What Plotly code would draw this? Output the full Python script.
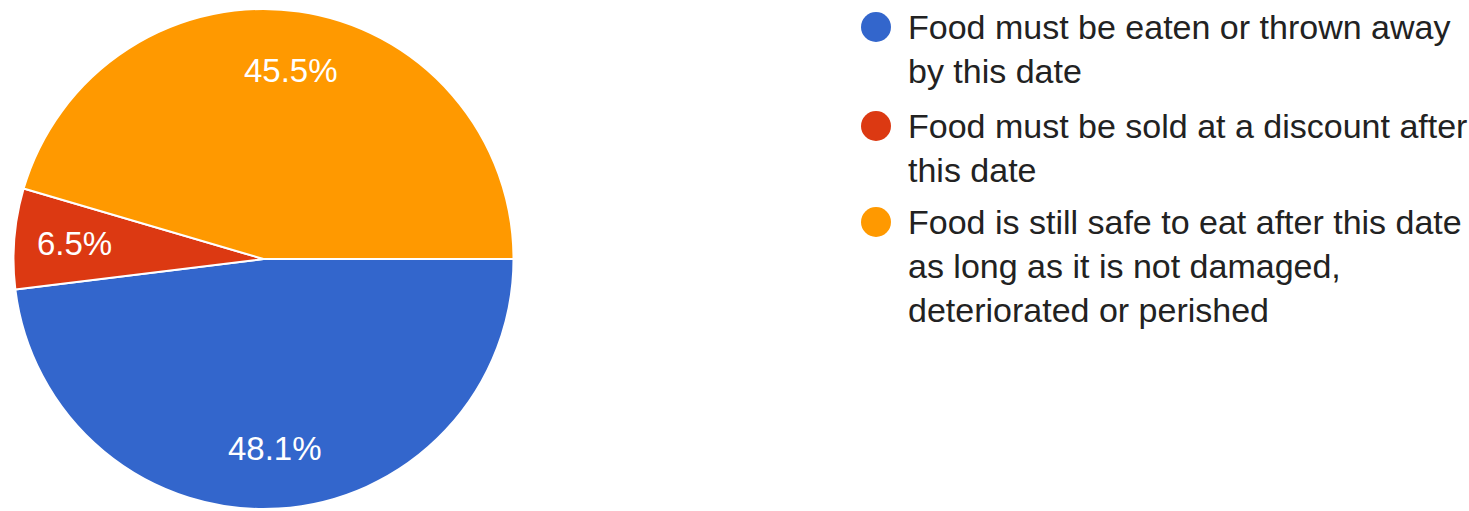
import math
import plotly.graph_objects as go

# Survey answers and their shares (percent)
labels = [
    "Food must be eaten or thrown away<br>by this date",
    "Food must be sold at a discount after<br>this date",
    "Food is still safe to eat after this date<br>as long as it is not damaged,<br>deteriorated or perished",
]
shares = [48.1, 6.5, 45.5]
colors = ["#3366CC", "#DC3912", "#FF9900"]

W, H = 1469, 511
FONT = "Liberation Sans, Arial, sans-serif"

# Pie placement in pixels (square box)
PX0, PX1 = 13, 514
PY0, PY1 = 9, 509
START = 90  # first slice starts at 3 o'clock, going clockwise

fig = go.Figure()
fig.add_trace(go.Pie(
    labels=labels,
    values=shares,
    sort=False,
    direction="clockwise",
    rotation=START,
    marker=dict(colors=colors, line=dict(color="white", width=2)),
    textinfo="none",
    domain=dict(x=[PX0 / W, PX1 / W], y=[1 - PY1 / H, 1 - PY0 / H]),
    showlegend=False,
    hoverinfo="label+percent",
))

# Percentage labels on each slice, placed along the slice bisector
cx, cy = (PX0 + PX1) / 2, (PY0 + PY1) / 2
radius = min(PX1 - PX0, PY1 - PY0) / 2
total = sum(shares)
annotations = []
acc = 0.0
for v in shares:
    mid = START + (acc + v / 2) / total * 360  # degrees clockwise from 12 o'clock
    acc += v
    rr = 0.76 * radius
    px = cx + rr * math.sin(math.radians(mid))
    py = cy - rr * math.cos(math.radians(mid))
    annotations.append(dict(
        xref="paper", yref="paper", x=px / W, y=1 - py / H,
        xanchor="center", yanchor="middle", showarrow=False,
        text=f"{v:.1f}%",
        font=dict(family=FONT, size=33, color="white"),
    ))

# Hand-built legend: round swatches with wrapped captions
legend_rows = [27, 126, 222]  # pixel y of each swatch centre
r = 15
shapes = []
for lab, col, yc in zip(labels, colors, legend_rows):
    shapes.append(dict(
        type="circle", xref="paper", yref="paper",
        x0=(876 - r) / W, x1=(876 + r) / W,
        y0=1 - (yc + r) / H, y1=1 - (yc - r) / H,
        fillcolor=col, line=dict(width=0),
    ))
    annotations.append(dict(
        xref="paper", yref="paper",
        x=906 / W, y=1 - (yc - 21) / H,
        xanchor="left", yanchor="top", align="left",
        text=lab, showarrow=False,
        font=dict(family=FONT, size=34, color="#222222"),
    ))

fig.update_layout(
    width=W, height=H,
    margin=dict(l=0, r=0, t=0, b=0),
    paper_bgcolor="white",
    plot_bgcolor="white",
    shapes=shapes,
    annotations=annotations,
)

fig.write_html("out.html")
